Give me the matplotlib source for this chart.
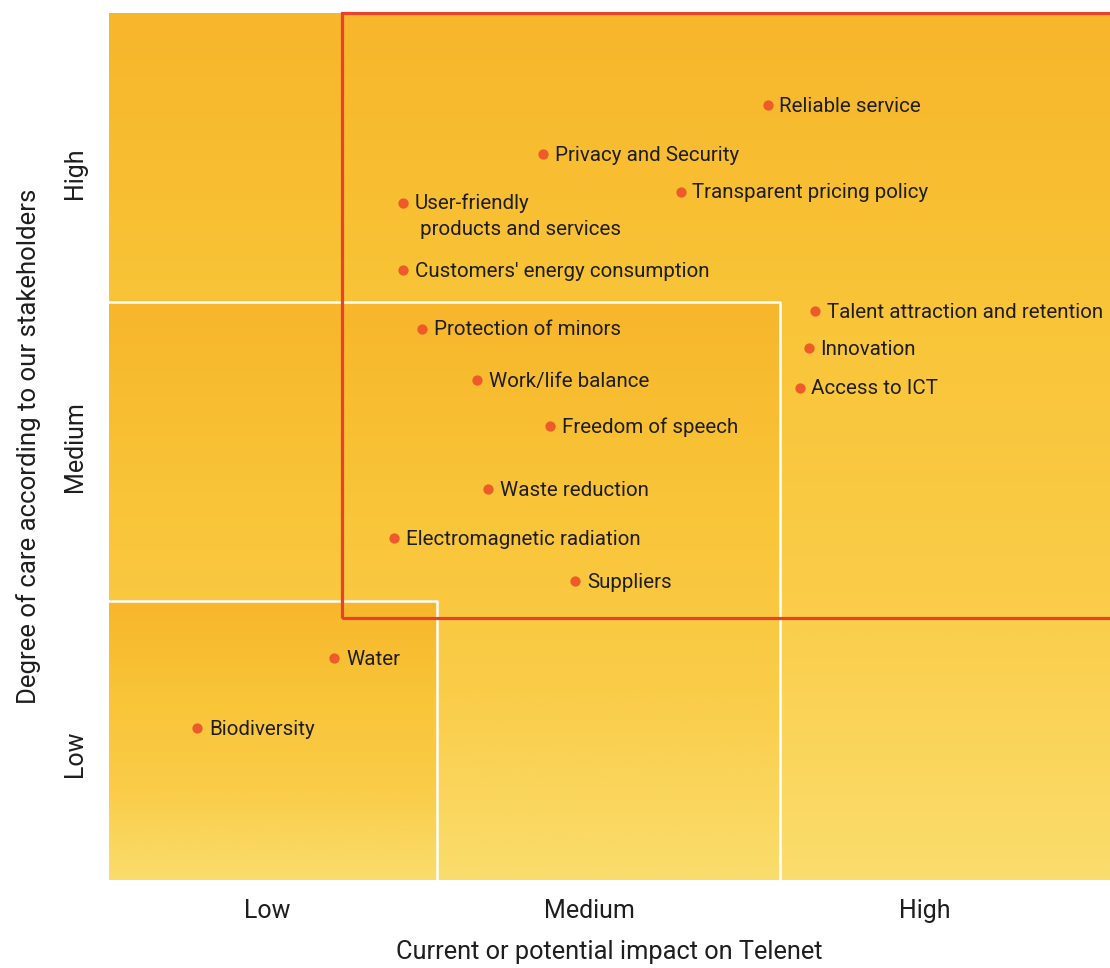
import numpy as np
import matplotlib
matplotlib.use("Agg")
import matplotlib.pyplot as plt
from matplotlib.colors import LinearSegmentedColormap
from matplotlib.patches import Rectangle

# ---- data ----
labels = ["Reliable service", "Privacy and Security", "Transparent pricing policy",
          "User-friendly\n products and services", "Customers' energy consumption",
          "Talent attraction and retention", "Innovation", "Access to ICT",
          "Protection of minors", "Work/life balance", "Freedom of speech",
          "Waste reduction", "Electromagnetic radiation", "Suppliers",
          "Water", "Biodiversity"]
impact = [6.58, 4.34, 5.71, 2.94, 2.94, 7.05, 6.99, 6.90, 3.13, 3.68, 4.41,
          3.79, 2.85, 4.66, 2.25, 0.88]
care = [8.94, 8.37, 7.94, 7.81, 7.04, 6.56, 6.14, 5.68, 6.36, 5.77, 5.24,
        4.51, 3.94, 3.45, 2.56, 1.75]

level_names = ["Low", "Medium", "High"]
x_level_pos = [1.58, 4.8, 8.15]
y_level_pos = [1.45, 5.0, 8.15]
zone_x = [3.28, 6.70, 10.0]   # right edge of low / medium / high zones
zone_y = [3.22, 6.67, 10.0]   # top edge of low / medium / high zones
focus_x0, focus_y0 = 2.33, 3.02

plt.rcParams['font.family'] = ["Roboto", "DejaVu Sans"]
TXT = "#1e1e1e"

fig = plt.figure(figsize=(11.1, 9.68), dpi=100)
ax = fig.add_axes([109/1110, 1 - 880/968, 1001/1110, 867/968])

cmap = LinearSegmentedColormap.from_list(
    "g", [(0, "#F7B62B"), (0.33, "#F9C437"), (0.67, "#FACC48"), (1, "#FADD6C")])
grad = np.linspace(0, 1, 256).reshape(-1, 1)

for i in range(3)[::-1]:
    x1 = zone_x[i]
    y1 = zone_y[i]
    ax.imshow(grad, extent=[0, x1, 0, y1], origin="upper", cmap=cmap,
              aspect="auto", zorder=1 + (2 - i) * 0.1, interpolation="bicubic")
    if i < 2:
        ax.plot([0, x1, x1], [y1, y1, 0], color="white", lw=1.8, zorder=1.5)

ax.add_patch(Rectangle((focus_x0, focus_y0), 10.05 - focus_x0, 9.995 - focus_y0,
                       fill=False, ec="#E8422B", lw=2.3, zorder=2, clip_on=False))
ax.set_xlim(0, 10)
ax.set_ylim(0, 10)

ax.scatter(impact, care, s=55, marker="o", color="#EE5B2B", zorder=3,
           linewidths=0)
for lab, x, y in zip(labels, impact, care):
    if "\n" in lab:
        ax.annotate(lab, (x, y), xytext=(8.5, 6.5), textcoords="offset points",
                    va="top", ha="left", fontsize=14.8, color=TXT, zorder=4,
                    linespacing=1.45)
    else:
        ax.annotate(lab, (x, y), xytext=(8.5, -1), textcoords="offset points",
                    va="center", ha="left", fontsize=14.8, color=TXT, zorder=4)

for s in ax.spines.values():
    s.set_visible(False)
ax.set_xticks(x_level_pos)
ax.set_xticklabels(level_names, fontsize=18, color=TXT)
ax.set_yticks(y_level_pos)
ax.set_yticklabels(level_names, fontsize=18, rotation=90, va="center", color=TXT)
ax.tick_params(length=0, pad=14)
ax.tick_params(axis="y", pad=16)
ax.set_xlabel("Current or potential impact on Telenet", fontsize=18.3, labelpad=12,
              color=TXT)
ax.set_ylabel("Degree of care according to our stakeholders", fontsize=18.5, labelpad=16,
              color=TXT)

fig.savefig("out.png", dpi=100)
